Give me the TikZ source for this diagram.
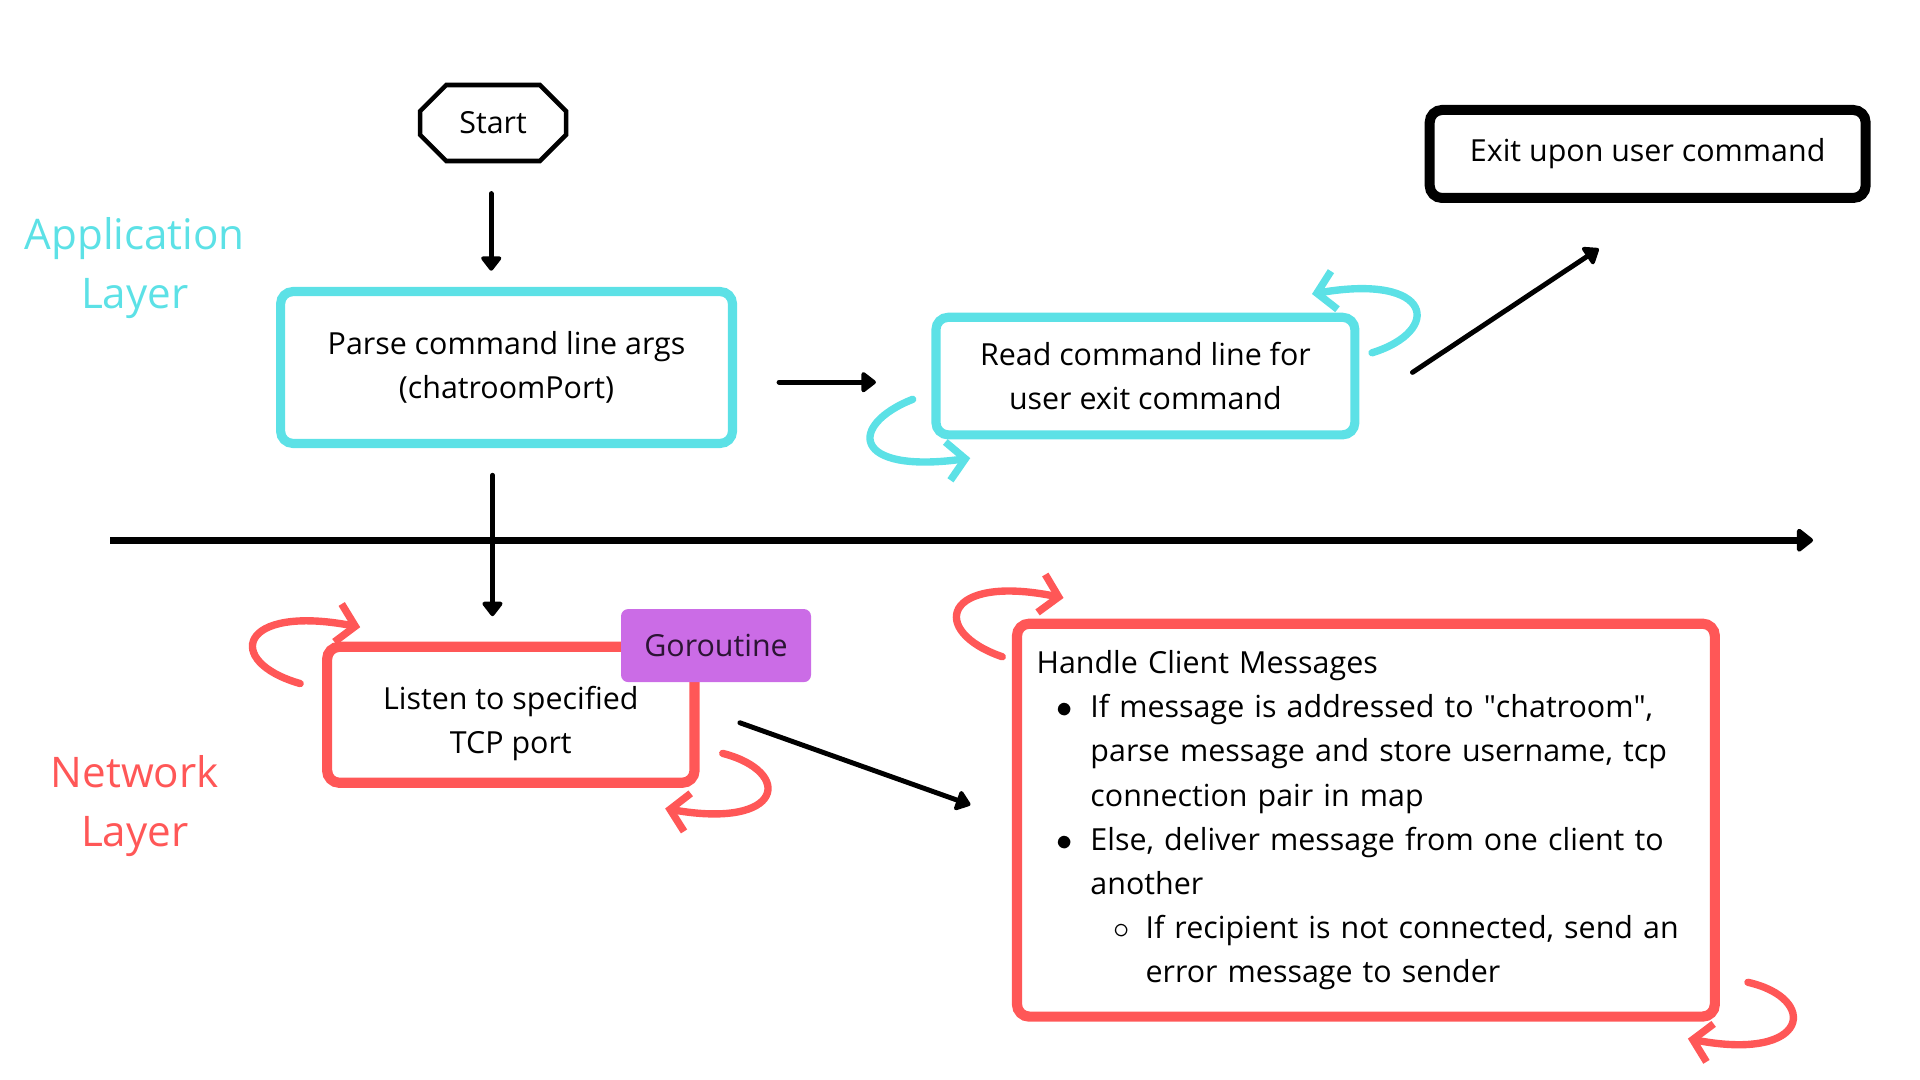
\documentclass[tikz,border=0pt]{standalone}
\usepackage{fontspec}
\setmainfont{Open Sans}
\newfontfamily\plainsans{Open Sans}
\usepackage{tikz}
\usetikzlibrary{arrows.meta, positioning, calc, shapes.misc}

\definecolor{appcyan}{HTML}{5CE1E6}
\definecolor{netred}{HTML}{FF5757}
\definecolor{gopurple}{HTML}{CB6CE6}
\definecolor{gotext}{HTML}{2B1433}

% bullets for the message box
\newcommand{\msgbul}{\makebox[0.539cm][l]{\hspace{0.2cm}$\bullet$}}
\newcommand{\msgind}{\hspace*{0.539cm}}
\newcommand{\msgsub}{\hspace*{0.539cm}\makebox[0.551cm][l]{\hspace{0.23cm}$\circ$}}
\newcommand{\msgsubind}{\hspace*{1.09cm}}
\newcommand{\dq}{{\plainsans"}}

\begin{document}
\begin{tikzpicture}[x=0.01225cm, y=-0.01225cm,
        font=\fontsize{8.65}{12.55}\selectfont,
        >={Triangle[width=6.6pt,length=4.5pt,round]},
        box/.style={draw, rounded corners=3.5pt, line width=2.6pt, align=center, inner sep=0pt, outer sep=0pt},
        app box/.style={box, draw=appcyan},
        net box/.style={box, draw=netred, line width=2.9pt},
        flow/.style={->, line width=1.4pt, line cap=round},
        curl/.style={line width=2.1pt, line cap=round, -{Straight Barb[length=5pt,width=11pt]}},
        layer/.style={font=\fontsize{12}{16.7}\selectfont, align=center}]
        \useasboundingbox (0,0) rectangle (1567.3,881.6);

        \node[layer, text=appcyan] (applayer) at (110,219) {Application\\Layer};
        \node[layer, text=netred] (netlayer) at (110,658) {Network\\Layer};

        \node[draw, chamfered rectangle, chamfered rectangle xsep=0.2cm, chamfered rectangle ysep=0.15cm,
              line width=1.3pt, minimum width=1.46cm, minimum height=0.76cm, inner sep=0pt, outer sep=0pt] (start) at (402.5,100.4) {Start};
        \node[app box, minimum width=4.52cm, minimum height=1.519cm] (parse) at (413.5,300) {Parse command line args\\(chatroomPort)};
        \node[app box, minimum width=4.19cm, minimum height=1.176cm] (read) at (935,307) {Read command line for\\user exit command};
        \node[box, line width=2.85pt, minimum width=4.36cm, minimum height=0.88cm] (exit) at (1345,125.7) {Exit upon user command};
        \node[net box, minimum width=3.675cm, minimum height=1.36cm] (listen) at (417,583.5)
            {\raisebox{-0.075cm}[\height][\depth]{\begin{tabular}{@{}c@{}}Listen to specified\\TCP port\end{tabular}}};
        \node[fill=gopurple, text=gotext, rounded corners=2pt, minimum width=1.9cm, minimum height=0.73cm, inner sep=0pt] (go) at (584.5,527) {Goroutine};
        \node[net box, align=left, minimum width=6.98cm, minimum height=3.93cm, text width=6.588cm, inner xsep=0.196cm] (handle) at (1115,669.5) {%
            Handle Client Messages\\
            \msgbul If message is addressed to \dq chatroom\dq,\\
            \msgind parse message and store username, tcp\\
            \msgind connection pair in map\\
            \msgbul Else, deliver message from one client to\\
            \msgind another\\
            \msgsub If recipient is not connected, send an\\
            \msgsubind error message to sender};

        \coordinate (lay-l) at (90,441);
        \coordinate (lay-r) at (1480,441);
        \draw[line width=2.1pt, -{Triangle[width=7.5pt,length=5pt,round]}] (lay-l) -- (lay-r);

        \draw[flow] ($(start.south)+(-1.5,26.6)$) -- ($(parse.north)+(-12.5,-17)$);
        \draw[flow] ($(parse.east)+(38,12)$) -- ($(read.west)+(-49,5)$);
        \draw[flow] ($(read.east)+(47,-3)$) -- ($(exit.south west)+(138,41.4)$);
        \draw[flow] ($(parse.south)+(-11.5,26)$) -- ($(listen.north)+(-15,-25)$);
        \draw[flow] ($(listen.east)+(37,6.5)$) -- ($(handle.west)+(-38,-12.5)$);

        % looping arrows
        \draw[curl, appcyan] ($(read.south west)+(-19,-29)$) .. controls ($(read.south west)+(-72,-8)$) and ($(read.south west)+(-69,32)$) .. ($(read.south west)+(28,19)$);
        \draw[curl, appcyan] ($(read.north east)+(14,29)$) .. controls ($(read.north east)+(72,11)$) and ($(read.north east)+(64,-36)$) .. ($(read.north east)+(-35,-19)$);
        \draw[curl, netred] ($(listen.north west)+(-22,30)$) .. controls ($(listen.north west)+(-85,12)$) and ($(listen.north west)+(-72,-35)$) .. ($(listen.north west)+(27,-16)$);
        \draw[curl, netred] ($(listen.south east)+(23,-24)$) .. controls ($(listen.south east)+(81,-9)$) and ($(listen.south east)+(73,38)$) .. ($(listen.south east)+(-24,21)$);
        \draw[curl, netred] ($(handle.north west)+(-12,27)$) .. controls ($(handle.north west)+(-73,6)$) and ($(handle.north west)+(-60,-41)$) .. ($(handle.north west)+(38,-21)$);
        \draw[curl, netred] ($(handle.south east)+(27,-28)$) .. controls ($(handle.south east)+(85,-15)$) and ($(handle.south east)+(78,37)$) .. ($(handle.south east)+(-22,18)$);
\end{tikzpicture}
\end{document}
